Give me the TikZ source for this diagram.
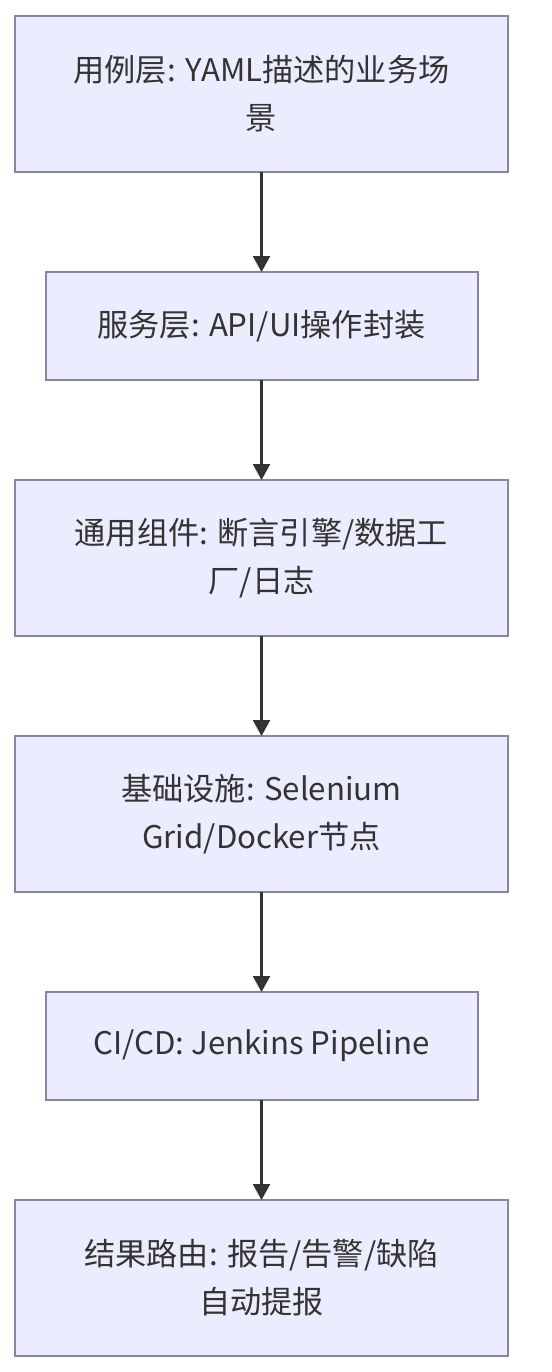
\documentclass[tikz,border=0pt]{standalone}
\usepackage{fontspec}
\setmainfont{Noto Sans CJK SC}
\usepackage{xcolor}
\usetikzlibrary{positioning,arrows.meta}
\definecolor{boxfill}{HTML}{ECECFF}
\definecolor{boxline}{HTML}{8A83A2}
\definecolor{textgray}{HTML}{333333}

\begin{document}
\begin{tikzpicture}[
    layer/.style={draw=boxline,fill=boxfill,line width=1pt,text=textgray,align=center,
      minimum width=246.5pt,minimum height=78pt,inner sep=0pt,outer sep=0pt,
      font=\fontsize{15.6pt}{24pt}\selectfont},
    slim/.style={layer,minimum width=216pt,minimum height=54pt},
    flow/.style={-{Triangle[length=8pt,width=8.5pt]},line width=1.1pt,draw=textgray}
  ]
		\useasboundingbox (0,0) rectangle (276pt,-686pt);
		% the layers, top to bottom
		\node[layer] (usecase) at (130.75pt,-47pt) {用例层: YAML描述的业务场\\景};
		\node[slim,below=50pt of usecase] (service) {服务层: API/UI操作封装};
		\node[layer,below=50pt of service] (common) {通用组件: 断言引擎/数据工\\厂/日志};
		\node[layer,below=50pt of common] (infra) {基础设施: Selenium\\Grid/Docker节点};
		\node[slim,below=50pt of infra] (cicd) {CI/CD: Jenkins Pipeline};
		\node[layer,below=50pt of cicd] (result) {结果路由: 报告/告警/缺陷\\自动提报};
		% connectors
		\draw[flow] (usecase) -- (service);
		\draw[flow] (service) -- (common);
		\draw[flow] (common) -- (infra);
		\draw[flow] (infra) -- (cicd);
		\draw[flow] (cicd) -- (result);
	\end{tikzpicture}
\end{document}
